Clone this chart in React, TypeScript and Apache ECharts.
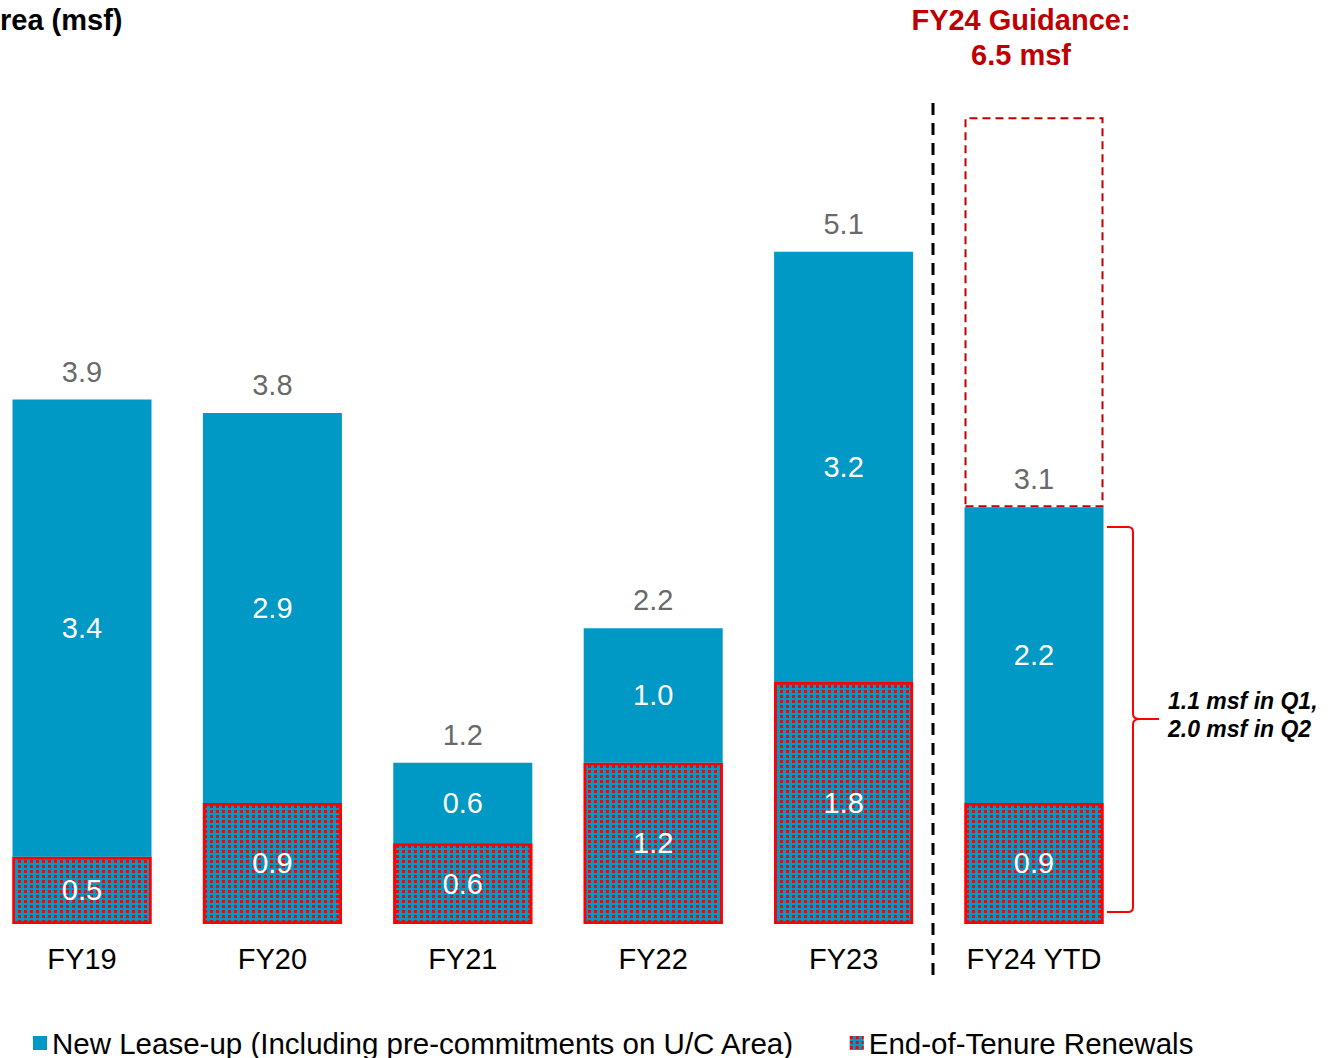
import React, { useEffect, useRef } from "react";
import * as echarts from "echarts";

const categories = ["FY19", "FY20", "FY21", "FY22", "FY23", "FY24 YTD"];
const renewals = [0.5, 0.9, 0.6, 1.2, 1.8, 0.9];
const newLease = [3.4, 2.9, 0.6, 1.0, 3.2, 2.2];
const guidanceRemaining: (number | string)[] = ["-", "-", "-", "-", "-", 2.9];
const totalLabels = ["3.9", "3.8", "1.2", "2.2", "5.1", "3.1"];
const legendNames = [
  "New Lease-up (Including pre-commitments on U/C Area)",
  "End-of-Tenure Renewals",
];
const titleText = "rea (msf)";
const guidanceText = "FY24 Guidance:\n6.5 msf";
const noteText = "1.1 msf in Q1,\n2.0 msf in Q2";

const FONT = "'Liberation Sans', Arial, sans-serif";
const BLUE = "#0098C4";

const bracePath =
  "M0,0 L21,0 Q26,0 26,5 L26,187 Q26,192 33,192 L52,192 M33,192 Q26,192 26,197 L26,380 Q26,385 21,385 L0,385";

export default function App() {
  const ref = useRef<HTMLDivElement>(null);
  useEffect(() => {
    if (!ref.current) return;
    try {
      echarts.graphic.registerShape("brace", echarts.graphic.extendPath(bracePath, {}));
    } catch (e) {}
    const chart = echarts.init(ref.current, null, { renderer: "svg" });
    const totals = renewals.map((r, i) => +(r + newLease[i]).toFixed(2));
    const decal = {
      symbol: "rect",
      symbolSize: 1,
      color: "#FF0000",
      dashArrayX: [2.5, 2.5],
      dashArrayY: [2.5, 2],
      rotation: 0,
    };
    chart.setOption({
      animation: false,
      textStyle: { fontFamily: FONT },
      grid: {
        left: -13.2,
        right: 207.8,
        top: 50,
        bottom: 134,
        containLabel: false,
        outerBoundsMode: "none",
      },
      legend: {
        data: [
          { name: legendNames[0] },
          { name: legendNames[1], itemStyle: { borderWidth: 0 } },
        ],
        icon: "rect",
        left: 33,
        top: 1028,
        padding: 0,
        itemWidth: 14,
        itemHeight: 14,
        itemGap: 55,
        textStyle: { fontSize: 29.5, color: "#000", fontFamily: FONT },
      },
      xAxis: {
        type: "category",
        data: categories,
        axisLine: { show: false },
        axisTick: { show: false },
        axisLabel: { fontSize: 29, color: "#000", margin: 20, fontFamily: FONT },
      },
      yAxis: { type: "value", min: 0, max: 6.5, show: false, splitLine: { show: false } },
      series: [
        {
          name: legendNames[1],
          type: "bar",
          stack: "t",
          barWidth: 139,
          data: renewals,
          itemStyle: {
            color: BLUE,
            borderColor: "#FF0000",
            borderWidth: 2.5,
            decal,
          },
          label: {
            show: true,
            position: "inside",
            color: "#fff",
            fontSize: 29,
            fontFamily: FONT,
            formatter: (p: any) => p.value.toFixed(1),
          },
        },
        {
          name: legendNames[0],
          type: "bar",
          stack: "t",
          barWidth: 139,
          data: newLease,
          itemStyle: { color: BLUE },
          label: {
            show: true,
            position: "inside",
            color: "#fff",
            fontSize: 29,
            fontFamily: FONT,
            formatter: (p: any) => p.value.toFixed(1),
          },
        },
        {
          name: "Guidance",
          type: "bar",
          stack: "t",
          barWidth: 139,
          data: guidanceRemaining,
          itemStyle: {
            color: "rgba(0,0,0,0)",
            borderColor: "#C00000",
            borderWidth: 2,
            borderType: [8, 5],
          },
          label: { show: false },
        },
        {
          name: "Totals",
          type: "scatter",
          data: totals,
          symbolSize: 1,
          itemStyle: { color: "rgba(0,0,0,0)" },
          label: {
            show: true,
            position: "top",
            distance: 13,
            color: "#404040",
            fontSize: 29,
            fontFamily: FONT,
            formatter: (p: any) => totalLabels[p.dataIndex],
          },
          z: 5,
        },
      ],
      graphic: [
        {
          type: "text",
          x: 0,
          y: 5,
          style: { text: titleText, font: `bold 29px ${FONT}`, fill: "#000", verticalAlign: "top" },
        },
        {
          type: "text",
          x: 1021,
          y: 2,
          style: {
            text: guidanceText,
            font: `bold 29px ${FONT}`,
            fill: "#C00000",
            align: "center",
            verticalAlign: "top",
            lineHeight: 35,
          },
        },
        {
          type: "line",
          shape: { x1: 933, y1: 103, x2: 933, y2: 976 },
          style: { stroke: "#000", lineWidth: 3, lineDash: [12, 8] },
        },
        {
          type: "brace",
          x: 1107,
          y: 527,
          style: { fill: "none", stroke: "#FF0000", lineWidth: 2 },
        },
        {
          type: "text",
          x: 1168,
          y: 687,
          style: {
            text: noteText,
            font: `italic bold 23px ${FONT}`,
            fill: "#000",
            verticalAlign: "top",
            lineHeight: 28,
          },
        },
      ],
    });
    return () => chart.dispose();
  }, []);
  return (
    <div
      ref={ref}
      style={{ position: "absolute", left: 0, top: 0, width: 1337, height: 1058 }}
    />
  );
}
